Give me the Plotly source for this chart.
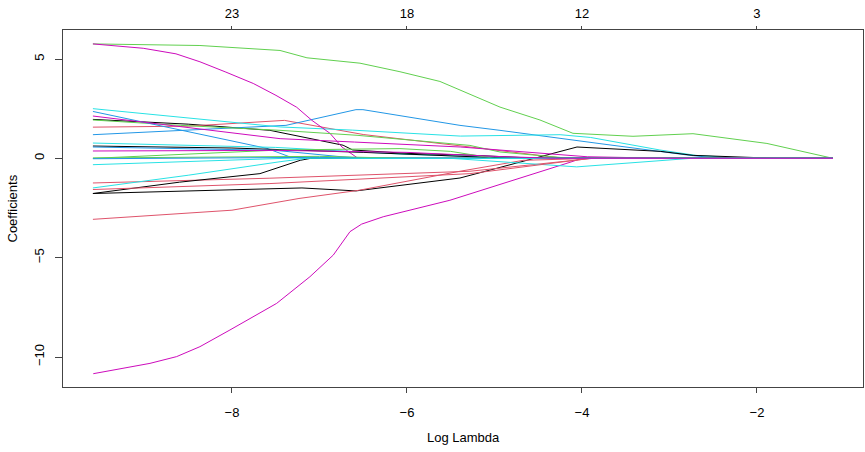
import plotly.graph_objects as go

# coefficient paths (log lambda, coefficient)
black_1_x = [-9.589, -8.5, -7.566, -6.73, -6.62, -6.0, -5.28, -4.9, -4.5, -1.131]
black_1_y = [1.96, 1.72, 1.41, 0.66, 0.42, 0.25, 0.16, 0.08, 0, 0]
red_1_x = [-9.589, -8.5, -7.4, -7.19, -6.5, -5.28, -4.6, -4.2, -1.131]
red_1_y = [1.57, 1.62, 1.91, 1.74, 1.2, 0.57, 0.2, 0, 0]
green_1_x = [-9.589, -8.366, -7.451, -7.143, -6.537, -6.08, -5.623, -4.937, -4.48, -4.103,
             -3.417, -2.731, -1.886, -1.131]
green_1_y = [5.76, 5.68, 5.43, 5.06, 4.79, 4.36, 3.87, 2.58, 1.93, 1.26,
             1.11, 1.24, 0.75, 0]
blue_1_x = [-9.589, -7.383, -6.583, -6.503, -5.394, -4.937, -3.794, -2.766, -2.42, -1.131]
blue_1_y = [1.19, 1.66, 2.45, 2.45, 1.66, 1.41, 0.74, 0.15, 0, 0]
cyan_1_x = [-9.589, -7.45, -6.62, -5.39, -4.25, -3.9, -3.11, -2.7, -2.2, -1.131]
cyan_1_y = [2.50, 1.58, 1.42, 1.12, 1.19, 1.05, 0.42, 0.15, 0.02, 0]
magenta_1_x = [-9.589, -9.014, -8.64, -8.366, -8.069, -7.757, -7.497, -7.26, -7.086,
               -6.88, -6.743, -6.56, -1.131]
magenta_1_y = [5.76, 5.54, 5.26, 4.86, 4.34, 3.77, 3.17, 2.57, 1.91,
               1.26, 0.57, 0, 0]

black_2_x = [-9.589, -7.2, -6.583, -5.394, -4.057, -3.1, -2.73, -1.77, -1.131]
black_2_y = [-1.77, -1.49, -1.64, -0.99, 0.57, 0.35, 0.15, 0, 0]
red_2_x = [-9.589, -8.0, -7.234, -6.551, -5.394, -4.67, -3.874, -1.131]
red_2_y = [-3.07, -2.61, -2.02, -1.61, -0.65, -0.1, 0, 0]
green_2_x = [-9.589, -8.59, -7.451, -6.571, -5.28, -4.937, -4.137, -1.131]
green_2_y = [1.93, 1.66, 1.41, 1.16, 0.65, 0.32, 0, 0]
blue_2_x = [-9.589, -8.6, -7.6, -7.337, -7.2, -1.131]
blue_2_y = [2.36, 1.45, 0.5, 0.07, 0, 0]
cyan_2_x = [-9.589, -7.5, -6.0, -5.2, -4.6, -1.131]
cyan_2_y = [0.77, 0.55, 0.2, 0.1, 0, 0]
magenta_2_x = [-9.585, -8.937, -8.632, -8.366, -8.023, -7.757, -7.489, -7.109, -6.842,
               -6.651, -6.518, -6.271, -5.509, -4.137, -4.0, -1.131]
magenta_2_y = [-10.84, -10.32, -9.98, -9.48, -8.64, -7.97, -7.30, -5.96, -4.87,
               -3.69, -3.31, -2.94, -2.11, -0.20, 0, 0]

black_3_x = [-9.589, -8.0, -6.5, -5.394, -4.8, -1.131]
black_3_y = [0.62, 0.52, 0.3, 0.12, 0, 0]
red_3_x = [-9.589, -7.566, -5.28, -4.5, -3.874, -1.131]
red_3_y = [-1.24, -1.0, -0.65, -0.3, 0, 0]
green_3_x = [-9.589, -7.45, -6.08, -5.5, -5.0, -1.131]
green_3_y = [0, 0.42, 0.49, 0.35, 0, 0]
blue_3_x = [-9.589, -7.5, -6.8, -6.5, -1.131]
blue_3_y = [0.57, 0.4, 0.1, 0, 0]
cyan_3_x = [-9.589, -7.2, -5.5, -4.06, -2.75, -1.131]
cyan_3_y = [-0.32, 0.03, 0, -0.43, 0, 0]
magenta_3_x = [-9.589, -7.45, -6.6, -5.39, -3.94, -3.0, -1.131]
magenta_3_y = [2.13, 0.99, 0.82, 0.57, 0.08, 0, 0]

black_4_x = [-9.589, -8.6, -7.68, -7.22, -7.1, -1.131]
black_4_y = [-1.77, -1.2, -0.77, -0.1, 0, 0]
red_4_x = [-9.589, -7.566, -5.28, -4.5, -3.9, -1.131]
red_4_y = [-1.57, -1.27, -0.77, -0.35, 0, 0]
green_4_x = [-9.589, -7.0, -6.0, -1.131]
green_4_y = [0.02, 0.1, 0, 0]
blue_4_x = [-9.589, -7.0, -6.5, -1.131]
blue_4_y = [-0.02, 0.05, 0, 0]
cyan_4_x = [-9.589, -8.5, -7.45, -7.15, -1.131]
cyan_4_y = [-1.49, -0.85, -0.17, 0, 0]
magenta_4_x = [-9.589, -7.5, -6.0, -5.0, -4.3, -1.131]
magenta_4_y = [0.37, 0.4, 0.3, 0.1, 0, 0]

# top axis: number of nonzero coefficients
top_ticks = [-8, -6, -4, -2]
top_labels = ["23", "18", "12", "3"]

# R default palette, matplot cycles through the first six
palette = ["black", "#DF536B", "#61D04F", "#2297E6", "#28E2E5", "#CD0BBC"]

paths = [
    (black_1_x, black_1_y), (red_1_x, red_1_y), (green_1_x, green_1_y),
    (blue_1_x, blue_1_y), (cyan_1_x, cyan_1_y), (magenta_1_x, magenta_1_y),
    (black_2_x, black_2_y), (red_2_x, red_2_y), (green_2_x, green_2_y),
    (blue_2_x, blue_2_y), (cyan_2_x, cyan_2_y), (magenta_2_x, magenta_2_y),
    (black_3_x, black_3_y), (red_3_x, red_3_y), (green_3_x, green_3_y),
    (blue_3_x, blue_3_y), (cyan_3_x, cyan_3_y), (magenta_3_x, magenta_3_y),
    (black_4_x, black_4_y), (red_4_x, red_4_y), (green_4_x, green_4_y),
    (blue_4_x, blue_4_y), (cyan_4_x, cyan_4_y), (magenta_4_x, magenta_4_y),
]

fig = go.Figure()
for i, (xs, ys) in enumerate(paths):
    fig.add_trace(go.Scatter(
        x=xs, y=ys, mode="lines",
        line=dict(color=palette[i % 6], width=1),
        showlegend=False, hoverinfo="skip"
    ))

# dummy trace so the top axis gets drawn
fig.add_trace(go.Scatter(x=[-8], y=[0], xaxis="x2", mode="markers",
                         marker=dict(opacity=0), showlegend=False, hoverinfo="skip"))

font = dict(family="Liberation Sans, Arial, sans-serif", size=13, color="black")
x_range = [-9.931, -0.788]

fig.update_layout(
    width=865, height=452,
    paper_bgcolor="white", plot_bgcolor="white",
    margin=dict(l=63, r=2, t=30, b=65),
    font=font,
    xaxis=dict(range=x_range, tickvals=[-8, -6, -4, -2], ticks="outside",
               ticklen=5, tickcolor="#444", showline=True, linecolor="#444",
               mirror=True, showgrid=False, zeroline=False, automargin=False,
               ticklabelstandoff=8),
    xaxis2=dict(range=x_range, overlaying="x", side="top", tickvals=top_ticks,
                ticktext=top_labels, ticks="outside", ticklen=3, tickcolor="#444",
                showline=False, showgrid=False, zeroline=False, automargin=False,
                ticklabelstandoff=3),
    yaxis=dict(range=[-11.51, 6.46], tickvals=[-10, -5, 0, 5], ticks="outside",
               ticklen=7, tickcolor="#444", showline=True, linecolor="#444",
               mirror=True, showgrid=False, zeroline=False, tickangle=-90,
               automargin=False, ticklabelstandoff=6),
    annotations=[
        dict(text="Log Lambda", x=0.5, xref="paper", y=-(437 - 387) / 357,
             yref="paper", yanchor="middle", showarrow=False, font=font),
        dict(text="Coefficients", x=-(63 - 12) / 800, y=0.5, xref="paper",
             yref="paper", xanchor="center", showarrow=False, textangle=-90,
             font=font),
    ],
)

# drop the browser's default body margin so the figure sits at the page corner
fig.write_html("out.html", config={"displayModeBar": False},
               post_script="document.body.style.margin='0';document.body.style.overflow='hidden';")
